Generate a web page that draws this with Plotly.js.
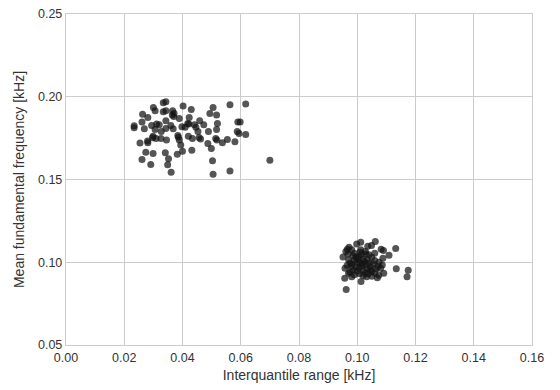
<!DOCTYPE html>
<html>
<head>
<meta charset="utf-8">
<script src="https://cdn.plot.ly/plotly-3.0.1.min.js"></script>
<style>html,body{margin:0;padding:0;background:#fff;}#chart{width:560px;height:390px;}</style>
</head>
<body>
<div id="chart"></div>
<script>
// Cluster A (higher pitch, narrow range)
const groupA_x = [0.0334,0.0343,0.0402,0.0300,0.0505,0.0563,0.0617,0.0430,0.0306,0.0334,0.0343,0.0366,0.0371,0.0365,0.0370,0.0263,0.0494,0.0517,0.0281,0.0389,0.0423,0.0590,0.0598,0.0261,0.0343,0.0459,0.0520,0.0234,0.0234,0.0311,0.0320,0.0294,0.0360,0.0398,0.0418,0.0422,0.0441,0.0446,0.0473,0.0409,0.0269,0.0343,0.0306,0.0327,0.0368,0.0453,0.0489,0.0517,0.0588,0.0594,0.0617,0.0384,0.0386,0.0420,0.0434,0.0457,0.0462,0.0299,0.0297,0.0309,0.0326,0.0345,0.0389,0.0514,0.0518,0.0554,0.0580,0.0537,0.0254,0.0280,0.0281,0.0487,0.0394,0.0499,0.0432,0.0400,0.0274,0.0299,0.0341,0.0382,0.0352,0.0261,0.0503,0.0700,0.0291,0.0349,0.0361,0.0505,0.0563];
const groupA_y = [0.1964,0.1970,0.1944,0.1935,0.1935,0.1952,0.1956,0.1923,0.1915,0.1909,0.1915,0.1915,0.1900,0.1890,0.1880,0.1895,0.1899,0.1889,0.1875,0.1869,0.1875,0.1847,0.1847,0.1847,0.1855,0.1855,0.1839,0.1825,0.1813,0.1835,0.1831,0.1827,0.1827,0.1819,0.1839,0.1836,0.1831,0.1815,0.1831,0.1815,0.1806,0.1808,0.1802,0.1790,0.1806,0.1790,0.1790,0.1802,0.1790,0.1778,0.1772,0.1766,0.1756,0.1762,0.1748,0.1754,0.1744,0.1762,0.1752,0.1748,0.1748,0.1738,0.1738,0.1748,0.1738,0.1742,0.1728,0.1722,0.1720,0.1732,0.1722,0.1718,0.1708,0.1688,0.1677,0.1671,0.1665,0.1657,0.1661,0.1653,0.1625,0.1621,0.1613,0.1617,0.1591,0.1589,0.1544,0.1532,0.1552];
// Cluster B (lower pitch, wide range)
const groupB_x = [0.1062,0.1012,0.0998,0.0972,0.0966,0.1036,0.1049,0.1082,0.1090,0.1132,0.1109,0.1088,0.0951,0.0961,0.0981,0.1012,0.1028,0.1060,0.1134,0.1175,0.1171,0.0957,0.0962,0.1013,0.1069,0.1074,0.1091,0.1080,0.1086,0.0958,0.0970,0.0981,0.1032,0.1045,0.0985,0.0995,0.1005,0.1015,0.1020,0.0990,0.1000,0.1010,0.1025,0.1035,0.1040,0.0975,0.0980,0.0995,0.1005,0.1015,0.1030,0.1045,0.1055,0.1060,0.1050,0.0970,0.0965,0.0985,0.1000,0.1020,0.1035,0.1050,0.1065,0.0990,0.1008,0.1028,0.0975,0.1060,0.1070,0.1040,0.0990,0.1010,0.1030,0.1075,0.0968,0.1020,0.1050,0.1003,0.1018,0.0982,0.1038];
const groupB_y = [0.1126,0.1121,0.1111,0.1091,0.1079,0.1097,0.1101,0.1079,0.1071,0.1083,0.1043,0.1024,0.1032,0.1065,0.1075,0.1075,0.1065,0.1055,0.0960,0.0951,0.0913,0.0903,0.0836,0.0883,0.0907,0.0921,0.0933,0.0964,0.0984,0.0964,0.0933,0.0913,0.0913,0.0953,0.1040,0.1030,0.1035,0.1045,0.1020,0.1010,0.1000,0.0995,0.1005,0.1015,0.0995,0.0995,0.0975,0.0970,0.0965,0.0975,0.0985,0.0975,0.0990,0.1010,0.1030,0.1015,0.0980,0.0950,0.0945,0.0950,0.0960,0.0945,0.0960,0.0925,0.0930,0.0935,0.0940,0.0935,0.0975,0.1045,0.1055,0.1060,0.1050,0.1000,0.1050,0.0920,0.0915,0.1018,0.0988,0.0990,0.0930];

const xTicks = [0,0.02,0.04,0.06,0.08,0.10,0.12,0.14,0.16];
const yTicks = [0.05,0.10,0.15,0.20,0.25];

const marker = {size: 7, color: 'rgba(20,20,20,0.72)', line: {width: 0}};
const traces = [
  {x: groupA_x, y: groupA_y, type: 'scatter', mode: 'markers', marker: marker, hoverinfo: 'x+y'},
  {x: groupB_x, y: groupB_y, type: 'scatter', mode: 'markers', marker: marker, hoverinfo: 'x+y'}
];

const fontFam = 'Liberation Sans, Arial, sans-serif';
const axisCommon = {
  showgrid: true, gridcolor: '#cccccc', gridwidth: 1,
  showline: true, linecolor: '#cccccc', linewidth: 1.2, mirror: true,
  zeroline: false, ticks: '', tickformat: '.2f',
  tickfont: {family: fontFam, size: 12.5, color: '#333333'}
};

const layout = {
  width: 560, height: 390,
  margin: {l: 66, r: 28, t: 14, b: 45},
  paper_bgcolor: '#ffffff', plot_bgcolor: '#ffffff',
  showlegend: false,
  xaxis: Object.assign({}, axisCommon, {
    range: [0, 0.16], tickvals: xTicks, ticklabelstandoff: 1,
    title: {text: 'Interquantile range [kHz]', standoff: 6,
      font: {family: fontFam, size: 14, color: '#333333'}}
  }),
  yaxis: Object.assign({}, axisCommon, {
    range: [0.05, 0.25], tickvals: yTicks,
    title: {text: 'Mean fundamental frequency [kHz]', standoff: 10,
      font: {family: fontFam, size: 14, color: '#333333'}}
  })
};

Plotly.newPlot('chart', traces, layout, {displayModeBar: false, staticPlot: true});
</script>
</body>
</html>
